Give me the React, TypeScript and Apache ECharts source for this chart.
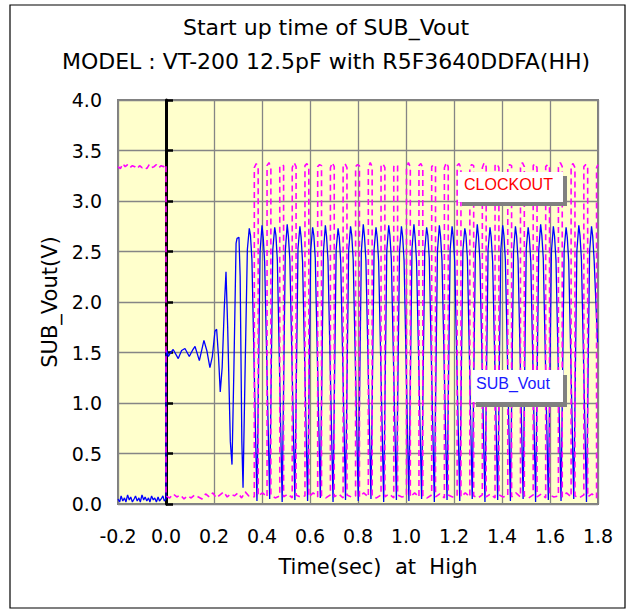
import React, { useEffect, useRef } from 'react';
import * as echarts from 'echarts';

const FONT = '"DejaVu Sans", "Liberation Sans", Arial, sans-serif';
const LEGEND_FONT = '"Liberation Sans", Arial, Helvetica, sans-serif';

const titleLines = ['Start up time of SUB_Vout', 'MODEL : VT-200 12.5pF with R5F3640DDFA(HH)'];
const xName = 'Time(sec)  at  High';
const yName = 'SUB_Vout(V)';
const seriesNames = ['CLOCKOUT', 'SUB_Vout'];

const xMin = -0.2, xMax = 1.8, xStep = 0.2;
const yMin = 0, yMax = 4, yStep = 0.5;

// SUB_Vout before start (noise near 0 V)
const subPre: [number, number][] = [
  [-0.2, 0.05], [-0.193, 0.02], [-0.187, 0.08], [-0.18, 0.03], [-0.173, 0.06], [-0.167, 0.02],
  [-0.16, 0.09], [-0.153, 0.04], [-0.147, 0.07], [-0.14, 0.02], [-0.133, 0.05], [-0.127, 0.08],
  [-0.12, 0.03], [-0.113, 0.06], [-0.107, 0.02], [-0.1, 0.09], [-0.093, 0.04], [-0.087, 0.07],
  [-0.08, 0.03], [-0.073, 0.06], [-0.067, 0.02], [-0.06, 0.08], [-0.053, 0.04], [-0.047, 0.06],
  [-0.04, 0.02], [-0.033, 0.07], [-0.027, 0.03], [-0.02, 0.05], [-0.013, 0.08], [-0.007, 0.03], [0.0, 0.05],
];

// SUB_Vout start-up (bias ~1.5 V then growing oscillation)
const subStart: [number, number][] = [
  [0.0, 1.47], [0.004, 1.52], [0.010, 1.46], [0.017, 1.49], [0.030, 1.53], [0.051, 1.44],
  [0.065, 1.52], [0.079, 1.54], [0.097, 1.46], [0.110, 1.52], [0.121, 1.56], [0.139, 1.42],
  [0.158, 1.62], [0.170, 1.52], [0.183, 1.35], [0.193, 1.46], [0.204, 1.71], [0.211, 1.73],
  [0.219, 1.45], [0.226, 1.11], [0.234, 1.35], [0.243, 1.95], [0.250, 2.30], [0.257, 1.75],
  [0.268, 0.62], [0.275, 0.39], [0.283, 1.35], [0.292, 2.58], [0.296, 2.63], [0.304, 2.64],
  [0.309, 2.25], [0.316, 0.62], [0.321, 0.16], [0.329, 1.25],
];

// SUB_Vout steady oscillation
const subRun: [number, number][] = [
  [0.339, 2.52], [0.347, 2.73], [0.352, 2.66], [0.358, 2.42], [0.379, 0.03],
  [0.392, 2.50], [0.400, 2.76], [0.405, 2.64], [0.411, 2.40], [0.432, 0.05],
  [0.445, 2.52], [0.453, 2.74], [0.458, 2.66], [0.464, 2.41], [0.484, 0.02],
  [0.497, 2.50], [0.505, 2.77], [0.510, 2.65], [0.516, 2.42], [0.537, 0.04],
  [0.550, 2.53], [0.558, 2.75], [0.563, 2.64], [0.569, 2.40], [0.590, 0.03],
  [0.603, 2.51], [0.611, 2.74], [0.616, 2.66], [0.622, 2.43], [0.643, 0.06],
  [0.656, 2.50], [0.664, 2.76], [0.669, 2.65], [0.675, 2.41], [0.696, 0.02],
  [0.709, 2.52], [0.717, 2.73], [0.722, 2.64], [0.728, 2.40], [0.748, 0.04],
  [0.761, 2.51], [0.769, 2.75], [0.774, 2.66], [0.780, 2.42], [0.801, 0.03],
  [0.814, 2.50], [0.822, 2.77], [0.827, 2.65], [0.833, 2.41], [0.854, 0.05],
  [0.867, 2.52], [0.875, 2.74], [0.880, 2.64], [0.886, 2.40], [0.907, 0.02],
  [0.920, 2.51], [0.928, 2.76], [0.933, 2.66], [0.939, 2.42], [0.960, 0.04],
  [0.973, 2.50], [0.981, 2.75], [0.986, 2.65], [0.992, 2.41], [1.012, 0.03],
  [1.025, 2.53], [1.033, 2.77], [1.038, 2.64], [1.044, 2.40], [1.065, 0.05],
  [1.078, 2.51], [1.086, 2.74], [1.091, 2.66], [1.097, 2.43], [1.118, 0.02],
  [1.131, 2.50], [1.139, 2.76], [1.144, 2.65], [1.150, 2.41], [1.171, 0.04],
  [1.184, 2.52], [1.192, 2.75], [1.197, 2.64], [1.203, 2.40], [1.224, 0.03],
  [1.237, 2.51], [1.245, 2.73], [1.250, 2.66], [1.256, 2.42], [1.276, 0.05],
  [1.289, 2.50], [1.297, 2.77], [1.302, 2.65], [1.308, 2.41], [1.329, 0.02],
  [1.342, 2.52], [1.350, 2.74], [1.355, 2.64], [1.361, 2.40], [1.382, 0.04],
  [1.395, 2.51], [1.403, 2.76], [1.408, 2.66], [1.414, 2.42], [1.435, 0.03],
  [1.448, 2.50], [1.456, 2.75], [1.461, 2.65], [1.467, 2.41], [1.488, 0.05],
  [1.501, 2.53], [1.509, 2.74], [1.514, 2.64], [1.520, 2.40], [1.540, 0.02],
  [1.553, 2.51], [1.561, 2.77], [1.566, 2.66], [1.572, 2.43], [1.593, 0.04],
  [1.606, 2.50], [1.614, 2.75], [1.619, 2.65], [1.625, 2.41], [1.646, 0.03],
  [1.659, 2.52], [1.667, 2.74], [1.672, 2.64], [1.678, 2.40], [1.699, 0.05],
  [1.712, 2.51], [1.720, 2.76], [1.725, 2.66], [1.731, 2.42], [1.752, 0.02],
  [1.765, 2.50], [1.773, 2.75], [1.778, 2.65], [1.784, 2.41], [1.798, 1.60],
];

// CLOCKOUT before start (high ~3.35 V)
const clkPre: [number, number][] = [
  [-0.2, 3.34], [-0.19, 3.32], [-0.18, 3.37], [-0.17, 3.34], [-0.16, 3.36], [-0.15, 3.33],
  [-0.14, 3.35], [-0.13, 3.34], [-0.12, 3.32], [-0.11, 3.35], [-0.1, 3.33], [-0.09, 3.34],
  [-0.08, 3.32], [-0.07, 3.36], [-0.06, 3.33], [-0.05, 3.34], [-0.04, 3.36], [-0.03, 3.33],
  [-0.02, 3.35], [-0.01, 3.34], [0.0, 3.36],
];

// CLOCKOUT low until oscillation starts
const clkStart: [number, number][] = [
  [0.0, 0.08], [0.015, 0.06], [0.03, 0.10], [0.045, 0.07], [0.06, 0.09], [0.075, 0.05],
  [0.09, 0.08], [0.105, 0.06], [0.12, 0.09], [0.135, 0.07], [0.15, 0.05], [0.165, 0.10],
  [0.18, 0.07], [0.195, 0.11], [0.21, 0.06], [0.225, 0.09], [0.24, 0.12], [0.255, 0.07],
  [0.27, 0.10], [0.285, 0.08], [0.30, 0.11], [0.315, 0.06], [0.33, 0.12], [0.345, 0.08],
];

// CLOCKOUT pulses
const clkRun: [number, number][] = [
  [0.368, 0.07], [0.368, 3.33], [0.376, 3.37], [0.384, 3.34], [0.384, 0.08], [0.402, 0.11],
  [0.421, 0.07], [0.421, 3.35], [0.429, 3.38], [0.437, 3.33], [0.437, 0.09], [0.455, 0.06],
  [0.474, 0.08], [0.474, 3.34], [0.482, 3.36], [0.490, 3.35], [0.490, 0.07], [0.508, 0.10],
  [0.526, 0.06], [0.526, 3.33], [0.534, 3.38], [0.542, 3.34], [0.542, 0.09], [0.560, 0.07],
  [0.579, 0.08], [0.579, 3.35], [0.587, 3.37], [0.595, 3.33], [0.595, 0.07], [0.613, 0.11],
  [0.632, 0.07], [0.632, 3.34], [0.640, 3.36], [0.648, 3.35], [0.648, 0.08], [0.666, 0.06],
  [0.685, 0.09], [0.685, 3.33], [0.693, 3.38], [0.701, 3.34], [0.701, 0.07], [0.719, 0.10],
  [0.738, 0.06], [0.738, 3.35], [0.746, 3.37], [0.754, 3.33], [0.754, 0.09], [0.772, 0.07],
  [0.790, 0.08], [0.790, 3.34], [0.798, 3.36], [0.806, 3.35], [0.806, 0.07], [0.824, 0.11],
  [0.843, 0.07], [0.843, 3.33], [0.851, 3.38], [0.859, 3.34], [0.859, 0.08], [0.877, 0.06],
  [0.896, 0.09], [0.896, 3.35], [0.904, 3.37], [0.912, 3.33], [0.912, 0.07], [0.930, 0.10],
  [0.949, 0.06], [0.949, 3.34], [0.957, 3.36], [0.965, 3.35], [0.965, 0.09], [0.983, 0.07],
  [1.002, 0.08], [1.002, 3.33], [1.010, 3.38], [1.018, 3.34], [1.018, 0.07], [1.036, 0.11],
  [1.054, 0.07], [1.054, 3.35], [1.062, 3.37], [1.070, 3.33], [1.070, 0.08], [1.088, 0.06],
  [1.107, 0.09], [1.107, 3.34], [1.115, 3.36], [1.123, 3.35], [1.123, 0.07], [1.141, 0.10],
  [1.160, 0.06], [1.160, 3.33], [1.168, 3.38], [1.176, 3.34], [1.176, 0.09], [1.194, 0.07],
  [1.213, 0.08], [1.213, 3.35], [1.221, 3.37], [1.229, 3.33], [1.229, 0.07], [1.247, 0.11],
  [1.266, 0.07], [1.266, 3.34], [1.274, 3.36], [1.282, 3.35], [1.282, 0.08], [1.300, 0.06],
  [1.318, 0.09], [1.318, 3.33], [1.326, 3.38], [1.334, 3.34], [1.334, 0.07], [1.352, 0.10],
  [1.371, 0.06], [1.371, 3.35], [1.379, 3.37], [1.387, 3.33], [1.387, 0.09], [1.405, 0.07],
  [1.424, 0.08], [1.424, 3.34], [1.432, 3.36], [1.440, 3.35], [1.440, 0.07], [1.458, 0.11],
  [1.477, 0.07], [1.477, 3.33], [1.485, 3.38], [1.493, 3.34], [1.493, 0.08], [1.511, 0.06],
  [1.530, 0.09], [1.530, 3.35], [1.538, 3.37], [1.546, 3.33], [1.546, 0.07], [1.564, 0.10],
  [1.582, 0.06], [1.582, 3.34], [1.590, 3.36], [1.598, 3.35], [1.598, 0.09], [1.616, 0.07],
  [1.635, 0.08], [1.635, 3.33], [1.643, 3.38], [1.651, 3.34], [1.651, 0.07], [1.669, 0.11],
  [1.688, 0.07], [1.688, 3.35], [1.696, 3.37], [1.704, 3.33], [1.704, 0.08], [1.722, 0.06],
  [1.741, 0.09], [1.741, 3.34], [1.749, 3.36], [1.757, 3.35], [1.757, 0.07], [1.775, 0.10],
  [1.794, 0.06], [1.794, 3.33], [1.800, 3.36],
];

const GRID = { left: 118, top: 100, right: 33, bottom: 109 };
const fmt = (v: number) => (Math.abs(v) < 1e-9 ? 0 : v).toFixed(1);

function buildOption() {
  const subData = [...subPre, ...subStart, ...subRun];
  const clkData = [...clkPre, ...clkStart, ...clkRun];
  return {
    animation: false,
    backgroundColor: '#ffffff',
    textStyle: { fontFamily: FONT },
    grid: {
      ...GRID,
      show: true,
      backgroundColor: '#FFFFCC',
      borderColor: '#808080',
      borderWidth: 2,
    },
    xAxis: {
      type: 'value',
      min: xMin,
      max: xMax,
      interval: xStep,
      name: xName,
      nameLocation: 'middle',
      nameGap: 52,
      nameTextStyle: { fontSize: 21, color: '#000', fontFamily: FONT, padding: [0, 0, 0, 40] },
      axisLine: { show: false },
      axisTick: { show: false },
      axisLabel: { formatter: fmt, fontSize: 19, color: '#000', margin: 22, fontFamily: FONT },
      splitLine: { show: true, lineStyle: { color: '#858585', width: 1.3 } },
    },
    yAxis: [
      {
        type: 'value',
        position: 'left',
        min: yMin,
        max: yMax,
        interval: yStep,
        name: yName,
        nameLocation: 'middle',
        nameGap: 58,
        nameTextStyle: { fontSize: 21, color: '#000', fontFamily: FONT },
        axisLine: { show: false, onZero: false },
        axisTick: { show: false },
        axisLabel: { formatter: fmt, fontSize: 19, color: '#000', margin: 16, fontFamily: FONT },
        splitLine: { show: true, lineStyle: { color: '#858585', width: 1.3 } },
      },
      {
        type: 'value',
        position: 'left',
        min: yMin,
        max: yMax,
        interval: yStep,
        axisLine: { show: true, onZero: true, lineStyle: { color: '#000', width: 3 } },
        axisTick: { show: true, inside: true, length: 7, lineStyle: { color: '#000', width: 2.5 } },
        axisLabel: { show: false },
        splitLine: { show: false },
      },
    ],
    series: [
      {
        name: seriesNames[1],
        type: 'line',
        data: subData,
        showSymbol: false,
        symbol: 'none',
        lineStyle: { color: '#0000FF', width: 1.3 },
        z: 3,
      },
      {
        name: seriesNames[0],
        type: 'line',
        data: clkData,
        showSymbol: false,
        symbol: 'none',
        lineStyle: { color: '#FF00FF', width: 1.6, type: [6, 4] },
        z: 4,
      },
    ],
    graphic: [
      {
        type: 'rect',
        shape: { x: 10, y: 5, width: 615, height: 603 },
        style: { fill: 'none', stroke: '#000', lineWidth: 1.2 },
        silent: true,
        z: 0,
      },
      {
        type: 'text',
        x: 326,
        y: 27,
        style: { text: titleLines[0], align: 'center', verticalAlign: 'middle', fontSize: 22, fontFamily: FONT, fill: '#000' },
      },
      {
        type: 'text',
        x: 326,
        y: 61,
        style: { text: titleLines[1], align: 'center', verticalAlign: 'middle', fontSize: 22, fontFamily: FONT, fill: '#000' },
      },
      { type: 'rect', shape: { x: 462, y: 176, width: 105, height: 30 }, style: { fill: '#808080' }, z: 100 },
      { type: 'rect', shape: { x: 458, y: 172, width: 105, height: 30 }, style: { fill: '#ffffff' }, z: 101 },
      {
        type: 'text',
        x: 464,
        y: 184,
        z: 102,
        style: { text: seriesNames[0], align: 'left', verticalAlign: 'middle', fontSize: 16, fontFamily: LEGEND_FONT, fill: '#FF0000' },
      },
      { type: 'rect', shape: { x: 476, y: 375, width: 91, height: 32 }, style: { fill: '#808080' }, z: 100 },
      { type: 'rect', shape: { x: 472, y: 370, width: 91, height: 32 }, style: { fill: '#ffffff' }, z: 101 },
      {
        type: 'text',
        x: 476,
        y: 383,
        z: 102,
        style: { text: seriesNames[1], align: 'left', verticalAlign: 'middle', fontSize: 16, fontFamily: LEGEND_FONT, fill: '#1a1aff' },
      },
    ],
  };
}

export default function App() {
  const ref = useRef<HTMLDivElement>(null);
  useEffect(() => {
    if (!ref.current) return;
    const chart = echarts.init(ref.current, null, { renderer: 'svg' });
    chart.setOption(buildOption() as any);
    return () => chart.dispose();
  }, []);
  return (
    <div
      ref={ref}
      style={{ position: 'absolute', left: 0, top: 0, width: 631, height: 613, background: '#fff' }}
    />
  );
}
